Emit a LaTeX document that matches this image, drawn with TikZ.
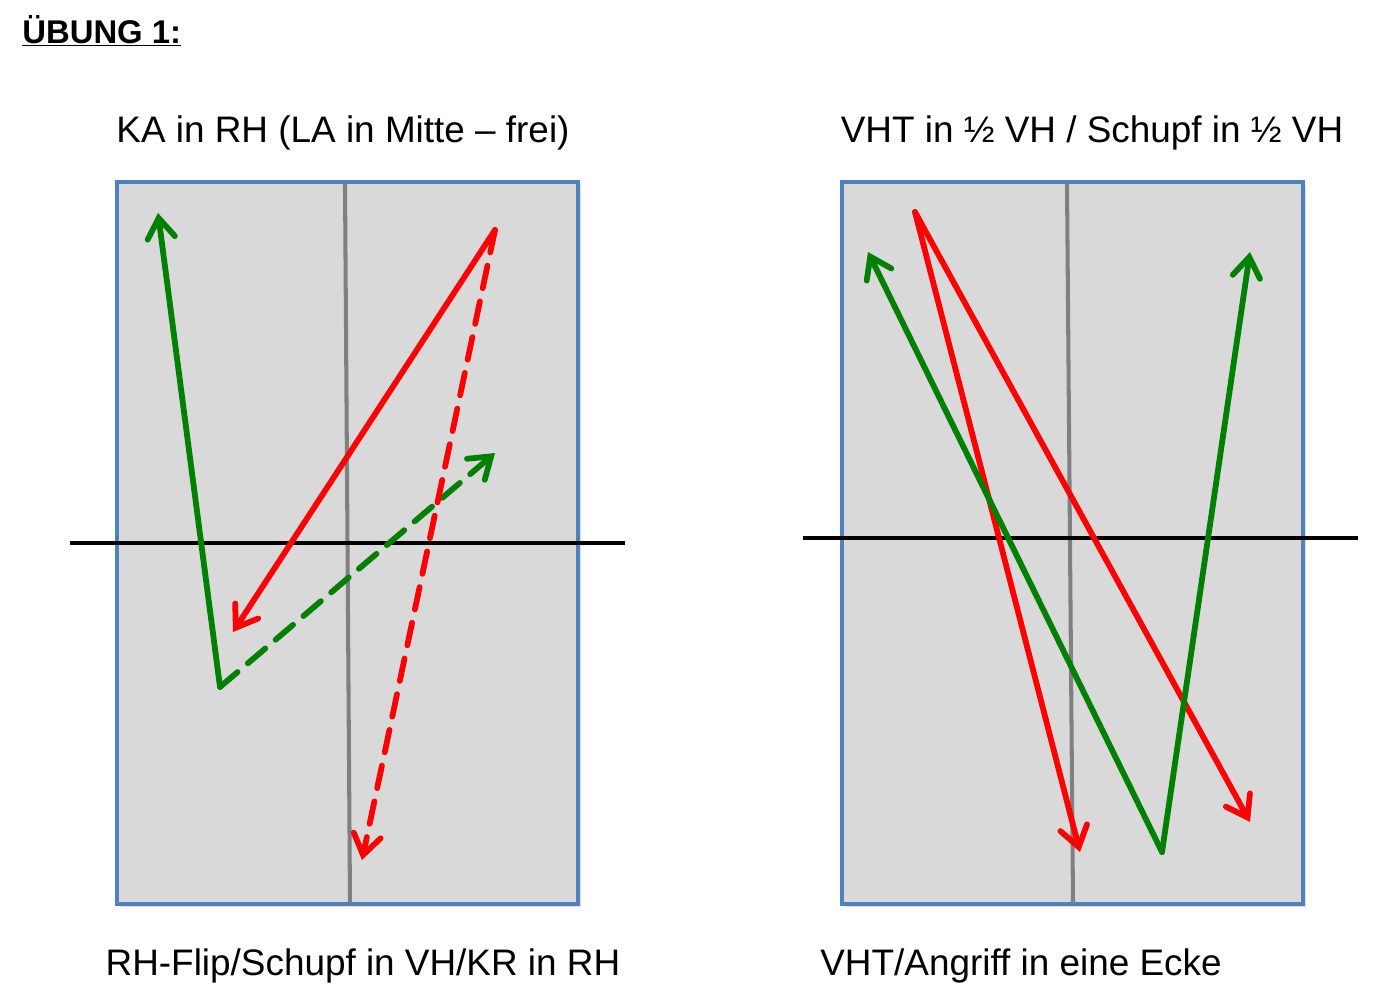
\documentclass[tikz,border=0pt]{standalone}
\usepackage{fontspec}
\setmainfont{Liberation Sans}
\usetikzlibrary{arrows.meta, shadows}

\definecolor{tblue}{HTML}{4F81BD}
\definecolor{tgray}{HTML}{D9D9D9}
\definecolor{tgreen}{HTML}{008000}
\definecolor{tred}{HTML}{FF0000}

\tikzset{
  table/.style={draw=tblue, fill=tgray, line width=2pt,
    drop shadow={opacity=0.25, shadow xshift=1.5pt, shadow yshift=-1.5pt}},
  midline/.style={draw=gray, line width=2.3pt},
  netline/.style={draw=black, line width=2pt},
  shot/.style={line width=3.3pt, line cap=round,
    -{Straight Barb[length=4mm, width=5.5mm, line cap=round]}},
  dashshot/.style={shot, dash pattern=on 0.46cm off 0.27cm},
  caption/.style={anchor=base, font=\fontsize{21}{25}\selectfont}
}

\begin{document}
\begin{tikzpicture}[x=0.02cm, y=-0.02cm]
  \useasboundingbox (0,0) rectangle (1387,1008);

  % heading
  \node[anchor=base west, inner sep=0pt, font=\fontsize{18.7}{22}\selectfont\bfseries]
    (title) at (22,43) {\underline{ÜBUNG 1:}};

  % left table
  \path[table] (117,182) rectangle (578,904);
  \coordinate (lmt) at (345,184);
  \coordinate (lmb) at (350,903);
  \draw[midline] (lmt) -- (lmb);
  \coordinate (lnw) at (70,543);
  \coordinate (lne) at (625,543);
  \draw[netline] (lnw) -- (lne);

  \coordinate (lv) at (220,687);
  \coordinate (lg1) at (158,213);
  \coordinate (lg2) at (495,453);
  \coordinate (lr) at (495,230);
  \coordinate (lr1) at (233,632);
  \coordinate (lr2) at (362,860);
  \path[tgreen]
    (lv) edge[shot] (lg1)
         edge[dashshot] (lg2);
  \path[tred]
    (lr) edge[shot] (lr1)
         edge[dashshot] (lr2);

  \node[caption] (ltop) at (343,142) {KA in RH (LA in Mitte – frei)};
  \node[caption] (lbot) at (363,975) {RH-Flip/Schupf in VH/KR in RH};

  % right table
  \path[table] (842,182) rectangle (1303,904);
  \coordinate (rmt) at (1067,184);
  \coordinate (rmb) at (1073,903);
  \draw[midline] (rmt) -- (rmb);
  \coordinate (rnw) at (803,538);
  \coordinate (rne) at (1358,538);
  \draw[netline] (rnw) -- (rne);

  \coordinate (rr) at (915,212);
  \coordinate (rr1) at (1080,852);
  \coordinate (rr2) at (1250,822);
  \coordinate (rv) at (1162,852);
  \coordinate (rg1) at (868,252);
  \coordinate (rg2) at (1250,252);
  \path[tred]
    (rr) edge[shot] (rr1)
         edge[shot] (rr2);
  \path[tgreen]
    (rv) edge[shot] (rg1)
         edge[shot] (rg2);

  \node[caption] (rtop) at (1092,142) {VHT in ½ VH / Schupf in ½ VH};
  \node[caption] (rbot) at (1021,975) {VHT/Angriff in eine Ecke};
\end{tikzpicture}
\end{document}
